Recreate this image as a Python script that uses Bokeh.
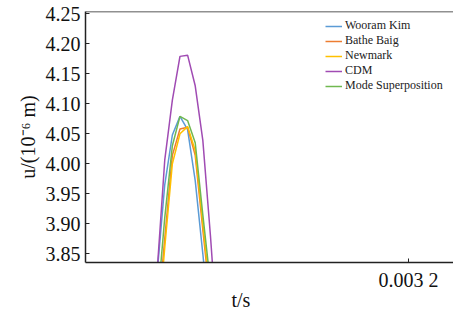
from bokeh.plotting import figure
from bokeh.models import (FixedTicker, NumeralTickFormatter, Legend, LegendItem,
                          Span, Title)
from bokeh.embed import file_html
from bokeh.resources import INLINE

# ---- data ----
t = [0.003167, 0.003168, 0.003169, 0.003170, 0.003171,
     0.003172, 0.003173, 0.003174, 0.003175]
wooram_kim = [3.817, 3.965, 4.048, 4.079, 4.057, 3.972, 3.850, 3.720, 3.600]
bathe_baig = [3.730, 3.875, 4.014, 4.058, 4.061, 4.014, 3.890, 3.770, 3.650]
newmark = [3.710, 3.860, 4.000, 4.050, 4.062, 4.022, 3.900, 3.780, 3.660]
cdm = [3.820, 4.006, 4.106, 4.179, 4.181, 4.130, 4.039, 3.880, 3.700]
mode_sup = [3.760, 3.910, 4.030, 4.079, 4.072, 4.035, 3.915, 3.800, 3.680]

series_names = ["Wooram Kim", "Bathe Baig", "Newmark", "CDM", "Mode Superposition"]
series_values = [wooram_kim, bathe_baig, newmark, cdm, mode_sup]
colors = ["#5b9bd5", "#ed7d31", "#ffc000", "#a04bb3", "#70b850"]

y_ticks = [3.85, 3.90, 3.95, 4.00, 4.05, 4.10, 4.15, 4.20, 4.25]
x_ticks = [0.0032]
x_tick_labels = {0.0032: "0.003 2"}

FONT = "'Liberation Serif'"

p = figure(width=453, height=316, output_backend="svg", toolbar_location=None,
           x_range=(0.0031576, 0.0032059), y_range=(3.8355, 4.2538),
           min_border_left=85, min_border_right=0, min_border_top=11,
           min_border_bottom=54)
p.outline_line_color = None
p.xgrid.visible = False
p.ygrid.visible = False

items = []
for name, vals, c in zip(series_names, series_values, colors):
    r = p.line(t, vals, line_color=c, line_width=1.5)
    items.append(LegendItem(label=name, renderers=[r]))

legend = Legend(items=items, location=(240, 169), border_line_color=None,
                background_fill_alpha=0, padding=0, margin=0, spacing=-1,
                label_height=14, glyph_height=14, glyph_width=17,
                label_standoff=3, label_text_font=FONT,
                label_text_font_size="12px", label_text_color="#222222")
p.add_layout(legend)

for ax in (p.xaxis[0], p.yaxis[0]):
    ax.axis_line_color = "#222222"
    ax.axis_line_width = 1.5
    ax.major_tick_line_color = "#222222"
    ax.major_tick_in = 4
    ax.major_tick_out = 0
    ax.minor_tick_line_color = None
    ax.major_label_text_font = FONT
    ax.major_label_text_font_size = "20px"
    ax.major_label_text_color = "#111111"
    ax.axis_label_text_font = FONT
    ax.axis_label_text_font_size = "20px"
    ax.axis_label_text_font_style = "normal"
    ax.axis_label_text_color = "#111111"

p.yaxis[0].ticker = FixedTicker(ticks=y_ticks)
p.yaxis[0].formatter = NumeralTickFormatter(format="0.00")
p.yaxis[0].major_label_standoff = 5
p.yaxis[0].axis_label = "u/(10\u207b\u2076 m)"
p.yaxis[0].axis_label_standoff = 4

p.xaxis[0].ticker = FixedTicker(ticks=x_ticks)
p.xaxis[0].major_label_overrides = x_tick_labels
p.xaxis[0].major_label_standoff = 6

p.add_layout(Title(text="t/s", align="left", offset=146, standoff=-14,
                   text_font=FONT, text_font_size="20px",
                   text_font_style="normal", text_color="#111111"), "below")

p.add_layout(Span(location=4.2538, dimension="width", line_color="#222222",
                  line_width=1.5))

open("out.html", "w").write(file_html(p, INLINE))
